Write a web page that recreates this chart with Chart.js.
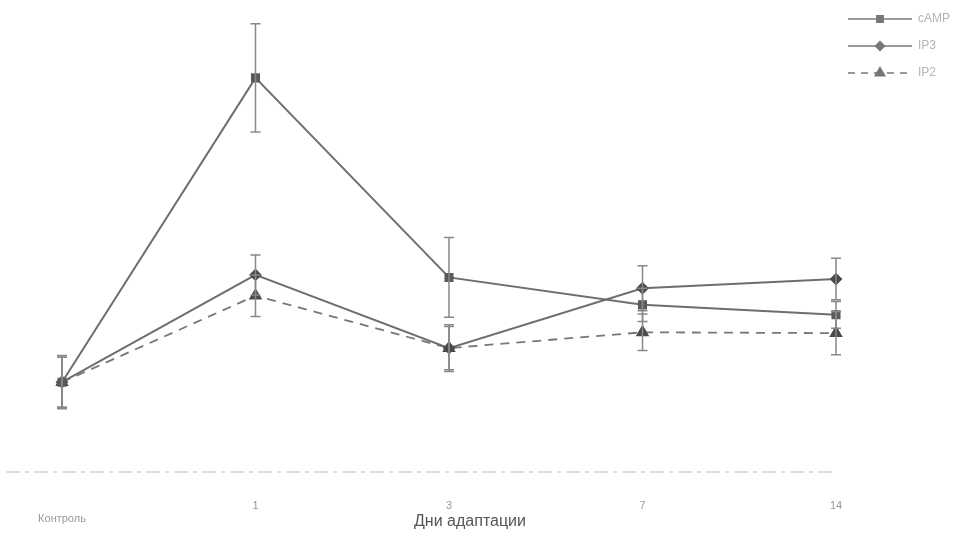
<!DOCTYPE html>
<html>
<head>
<meta charset="utf-8">
<script src="https://cdn.jsdelivr.net/npm/chart.js@4.4.0/dist/chart.umd.min.js"></script>
<style>
  html, body { margin: 0; padding: 0; background: #fff; }
  #wrap { width: 970px; height: 535px; }
</style>
</head>
<body>
<div id="wrap"><canvas id="chart" width="970" height="535"></canvas></div>
<script>
// x categories (days of adaptation)
const days = [["", "Контроль"], "1", "3", "7", "14"];
const xTitle = "Дни адаптации";

// values, % of control
const camp = [100, 466, 226, 193, 181];
const ip3 = [100, 229, 141, 213, 224];
const ip2 = [100, 204, 141, 160, 159];

// error half-widths
const campErr = [30, 65, 48, 20, 16];
const ip3Err = [30, 24, 26, 27, 25];
const ip2Err = [32, 25, 28, 22, 26];

const ctx = document.getElementById("chart").getContext("2d");

// draws error bars through the y scale
const errorBars = {
  id: "errorBars",
  afterDatasetsDraw(chart) {
    const c = chart.ctx;
    const y = chart.scales.y;
    chart.data.datasets.forEach((ds, i) => {
      const meta = chart.getDatasetMeta(i);
      meta.data.forEach((pt, j) => {
        const v = ds.data[j];
        const e = ds.errors[j];
        const top = y.getPixelForValue(v + e);
        const bot = y.getPixelForValue(v - e);
        c.save();
        c.strokeStyle = "#888";
        c.lineWidth = 1.5;
        c.beginPath();
        c.moveTo(pt.x, top);
        c.lineTo(pt.x, bot);
        c.moveTo(pt.x - 5, top);
        c.lineTo(pt.x + 5, top);
        c.moveTo(pt.x - 5, bot);
        c.lineTo(pt.x + 5, bot);
        c.stroke();
        c.restore();
      });
    });
  }
};

// faint dashed baseline under the plot + axis title
const baseLine = {
  id: "baseLine",
  beforeDatasetsDraw(chart) {
    const c = chart.ctx;
    const b = chart.chartArea.bottom;
    c.save();
    c.strokeStyle = "#d4d4d4";
    c.lineWidth = 1.5;
    c.setLineDash([14, 5, 4, 5]);
    c.beginPath();
    c.moveTo(6, b);
    c.lineTo(832, b);
    c.stroke();
    c.setLineDash([]);
    c.fillStyle = "#555";
    c.font = "16px 'Liberation Sans', Arial, sans-serif";
    c.textAlign = "center";
    c.textBaseline = "middle";
    c.fillText(xTitle, 470, 522);
    c.restore();
  }
};

// legend at top right: short line with marker and name
const lineLegend = {
  id: "lineLegend",
  afterDraw(chart) {
    const c = chart.ctx;
    const x0 = 848, x1 = 912;
    chart.data.datasets.forEach((ds, i) => {
      const yy = 19 + i * 27;
      c.save();
      c.strokeStyle = "#777";
      c.lineWidth = 1.5;
      c.setLineDash(ds.borderDash ? [7, 6] : []);
      c.beginPath();
      c.moveTo(x0, yy);
      c.lineTo(x1, yy);
      c.stroke();
      c.setLineDash([]);
      c.fillStyle = "#777";
      c.strokeStyle = "#777";
      Chart.helpers.drawPoint(c, {
        pointStyle: ds.pointStyle,
        radius: ds.pointRadius - 0.5,
        rotation: 0,
        borderWidth: 1
      }, (x0 + x1) / 2, yy);
      c.fillStyle = "#b4b4b4";
      c.font = "12px 'Liberation Sans', Arial, sans-serif";
      c.textBaseline = "middle";
      c.fillText(ds.label, x1 + 6, yy);
      c.restore();
    });
  }
};

new Chart(ctx, {
  type: "line",
  data: {
    labels: days,
    datasets: [
      {
        label: "cAMP",
        data: camp,
        errors: campErr,
        borderColor: "#6e6e6e",
        backgroundColor: "#5a5a5a",
        pointBorderColor: "#5a5a5a",
        borderWidth: 2,
        pointStyle: "rect",
        pointRadius: 5,
        tension: 0
      },
      {
        label: "IP3",
        data: ip3,
        errors: ip3Err,
        borderColor: "#6e6e6e",
        backgroundColor: "#4a4a4a",
        pointBorderColor: "#4a4a4a",
        borderWidth: 2,
        pointStyle: "rectRot",
        pointRadius: 5,
        tension: 0
      },
      {
        label: "IP2",
        data: ip2,
        errors: ip2Err,
        borderColor: "#777",
        backgroundColor: "#4a4a4a",
        pointBorderColor: "#4a4a4a",
        borderWidth: 1.8,
        borderDash: [9, 7],
        pointStyle: "triangle",
        pointRadius: 6,
        tension: 0
      }
    ]
  },
  options: {
    responsive: false,
    animation: false,
    layout: {
      padding: { left: 62, right: 134, top: 8, bottom: 0 }
    },
    plugins: {
      legend: { display: false },
      tooltip: { enabled: false }
    },
    scales: {
      x: {
        offset: false,
        grid: { display: false },
        border: { display: false },
        afterFit(scale) { scale.height = 63; },
        ticks: {
          color: "#999",
          font: { size: 11, family: "'Liberation Sans', Arial, sans-serif" },
          padding: 19,
          maxRotation: 0,
          autoSkip: false
        },
        title: { display: false }
      },
      y: {
        display: false,
        min: -8,
        max: 550
      }
    }
  },
  plugins: [baseLine, errorBars, lineLegend]
});
</script>
</body>
</html>
